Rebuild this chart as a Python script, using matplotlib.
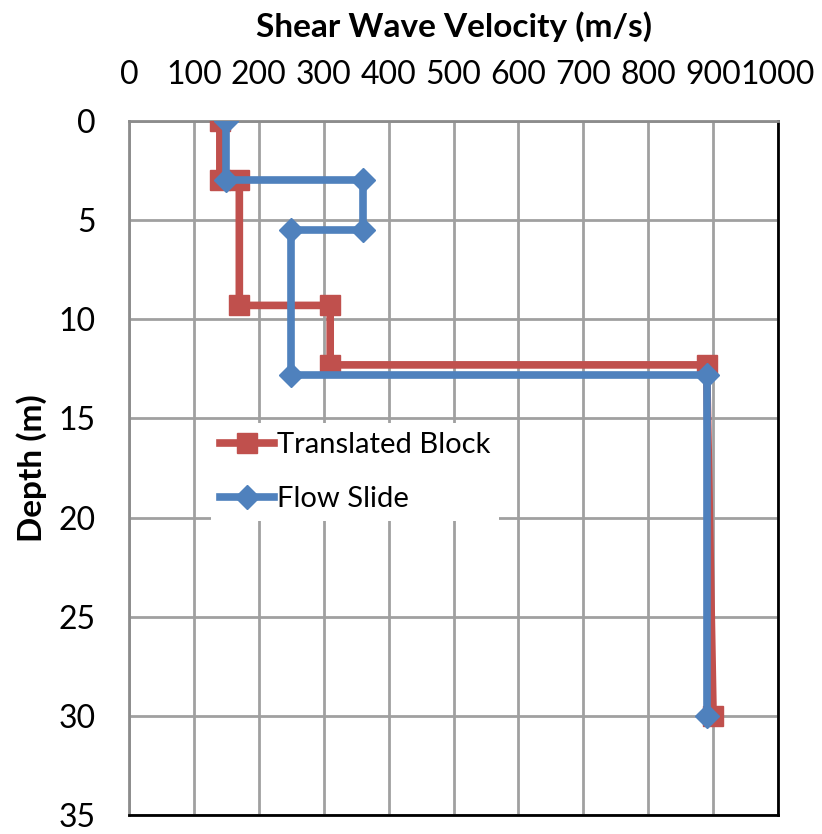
import matplotlib
matplotlib.use("Agg")
import matplotlib.pyplot as plt

plt.rcParams['font.family'] = ['Lato', 'DejaVu Sans']

# Data
tb_velocity = [140, 140, 170, 170, 310, 310, 890, 900]
tb_depth = [0, 3, 3, 9.3, 9.3, 12.3, 12.3, 30]
fs_velocity = [150, 150, 360, 360, 250, 250, 890, 890]
fs_depth = [0, 3, 3, 5.5, 5.5, 12.8, 12.8, 30]
x_ticks = [0, 100, 200, 300, 400, 500, 600, 700, 800, 900, 1000]
y_ticks = [0, 5, 10, 15, 20, 25, 30, 35]

red = '#C0504D'
blue = '#4F81BD'

fig = plt.figure(figsize=(8.22, 8.34), dpi=100)
ax = fig.add_axes([129/822, 1 - 815/834, (778-129)/822, (815-121)/834])

ax.plot(tb_velocity, tb_depth, color=red, lw=5.5, marker='s', ms=14,
        label='Translated Block', zorder=3)
ax.plot(fs_velocity, fs_depth, color=blue, lw=5.5, marker='D', ms=12,
        label='Flow Slide', zorder=4)

ax.set_xlim(0, 1000)
ax.set_ylim(35, 0)
ax.set_xticks(x_ticks)
ax.set_yticks(y_ticks)
ax.xaxis.tick_top()
ax.xaxis.set_label_position('top')
ax.tick_params(axis='both', length=0, labelsize=23)
ax.tick_params(axis='x', pad=22)
ax.tick_params(axis='y', pad=24)
ax.grid(True, color='#A0A0A0', lw=2)
ax.set_axisbelow(True)

for s in ['top', 'left']:
    ax.spines[s].set_color('#8C8C8C')
    ax.spines[s].set_linewidth(2)
for s in ['bottom', 'right']:
    ax.spines[s].set_color('black')
    ax.spines[s].set_linewidth(2)

ax.set_xlabel('Shear Wave Velocity (m/s)', fontsize=24, fontweight='bold', labelpad=17)
ax.set_ylabel('Depth (m)', fontsize=24, fontweight='bold', labelpad=8)

leg = ax.legend(loc='upper left', bbox_to_anchor=((211-129)/649, 1 - (423-121)/694),
                borderaxespad=0, fontsize=21, frameon=True, fancybox=False,
                edgecolor='none', framealpha=1, handlelength=1.85,
                borderpad=0.3, labelspacing=0.97, handletextpad=0.1)

fig.savefig('out.png', dpi=100)
